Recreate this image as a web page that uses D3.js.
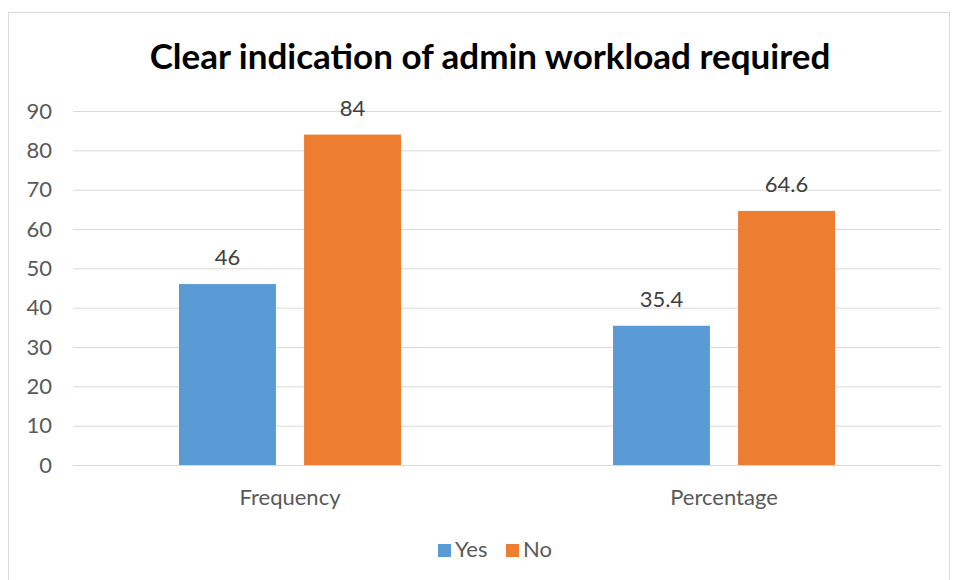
<!DOCTYPE html>
<html>
<head>
<meta charset="utf-8">
<script src="https://cdn.jsdelivr.net/npm/d3@7"></script>
<style>
  body { margin: 0; background: #fff; }
  text { font-family: Lato, "Open Sans", sans-serif; }
</style>
</head>
<body>
<svg></svg>
<script>
var categories = ['Frequency', 'Percentage'];
var series = ['Yes', 'No'];
var yesValues = [46, 35.4];
var noValues = [84, 64.6];
var yTicks = [0, 10, 20, 30, 40, 50, 60, 70, 80, 90];
var colors = ['#5B9BD5', '#ED7D31'];

function start() {
    var svg = d3.select('svg')
        .attr('width', 955)
        .attr('height', 580);

    // outer chart frame
    svg.append('rect')
        .attr('x', 8.5).attr('y', 12.5)
        .attr('width', 941).attr('height', 575)
        .attr('fill', '#fff')
        .attr('stroke', '#D9D9D9');

    svg.append('text')
        .attr('x', 490).attr('y', 69)
        .attr('text-anchor', 'middle')
        .attr('font-size', 35)
        .attr('font-weight', 'bold')
        .attr('fill', '#000')
        .text('Clear indication of admin workload required');

    var x = d3.scaleBand().domain(categories).range([73, 941]);
    var inner = d3.scaleBand().domain(series).range([106, 328]).paddingInner(0.225);
    var y = d3.scaleLinear().domain([0, 90]).range([465, 111]);

    var yAxis = d3.axisLeft(y).tickValues(yTicks).tickSize(-(941 - 73)).tickPadding(21);
    var ga = svg.append('g').attr('transform', 'translate(73,0)').call(yAxis);
    ga.select('.domain').remove();
    ga.selectAll('line').attr('stroke', '#D9D9D9').attr('stroke-width', 1);
    ga.selectAll('text').attr('fill', '#595959').attr('font-size', 22);

    var rows = categories.map(function (c, i) {
        return [{ cat: c, s: 'Yes', v: yesValues[i] }, { cat: c, s: 'No', v: noValues[i] }];
    });

    var groups = svg.selectAll('g.cat')
        .data(rows)
        .enter().append('g')
        .attr('class', 'cat')
        .attr('transform', function (d, i) { return 'translate(' + x(categories[i]) + ',0)'; });

    groups.selectAll('rect')
        .data(function (d) { return d; })
        .enter().append('rect')
        .attr('x', function (d) { return inner(d.s); })
        .attr('width', inner.bandwidth())
        .attr('y', function (d) { return y(d.v); })
        .attr('height', function (d) { return y(0) - y(d.v); })
        .attr('fill', function (d) { return colors[series.indexOf(d.s)]; });

    groups.selectAll('text.lbl')
        .data(function (d) { return d; })
        .enter().append('text')
        .attr('class', 'lbl')
        .attr('x', function (d) { return inner(d.s) + inner.bandwidth() / 2; })
        .attr('y', function (d) { return y(d.v) - 19; })
        .attr('text-anchor', 'middle')
        .attr('font-size', 22)
        .attr('fill', '#404040')
        .text(function (d) { return d.v; });

    var xAxis = d3.axisBottom(x).tickSize(0).tickPadding(24);
    var gx = svg.append('g').attr('transform', 'translate(0,465)').call(xAxis);
    gx.select('.domain').attr('stroke', '#D9D9D9');
    gx.selectAll('text').attr('fill', '#595959').attr('font-size', 22);

    var legend = svg.append('g');
    var lx = [438, 506];
    series.forEach(function (s, i) {
        legend.append('rect')
            .attr('x', lx[i]).attr('y', 544)
            .attr('width', 13).attr('height', 13)
            .attr('fill', colors[i]);
        legend.append('text')
            .attr('x', lx[i] + 17).attr('y', 557)
            .attr('font-size', 22)
            .attr('fill', '#595959')
            .text(s);
    });
}

start();
</script>
</body>
</html>
